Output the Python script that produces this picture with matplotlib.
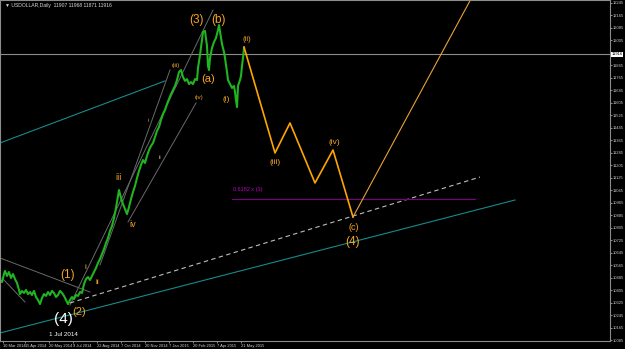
import matplotlib
matplotlib.use("Agg")
import matplotlib.pyplot as plt

# price bars (bar index, close)
bar_x = [0, 2, 4, 5, 7, 9, 11, 13, 15, 17, 19, 20, 22, 24, 26, 28, 30, 32, 34, 36,
         38, 40, 42, 44, 46, 48, 50, 52, 54, 56, 58, 60, 62, 64, 66, 68, 70, 72, 74, 76,
         78, 80, 82, 84, 86, 88, 90, 92, 94, 96, 98, 100, 102, 104, 106, 108, 110, 112, 114, 116,
         118, 119, 121, 123, 125, 127, 129, 131, 133, 135, 137, 139, 141, 143, 145, 147, 149, 151, 153, 155,
         157, 159, 161, 163, 165, 167, 169, 171, 173, 175, 177, 179, 181, 183, 185, 187, 189, 191, 193, 195,
         197, 198, 200, 202, 203, 205, 207, 208, 209, 210, 212, 214, 216, 218, 219, 221, 222, 224, 225, 227,
         228, 230, 232, 234, 235, 236, 237, 238, 240, 241, 242, 243, 244]
close = [10472, 10459, 10510, 10530, 10498, 10523, 10485, 10510, 10478, 10453, 10408, 10382, 10402, 10389, 10408, 10382, 10395, 10376, 10402, 10363,
         10344, 10318, 10357, 10382, 10370, 10395, 10376, 10402, 10389, 10363, 10376, 10402, 10389, 10370, 10344, 10318, 10344, 10363, 10350, 10376,
         10370, 10395, 10389, 10446, 10478, 10491, 10472, 10498, 10523, 10549, 10581, 10606, 10638, 10670, 10709, 10741, 10786, 10818, 10869, 10933,
         11010, 11048, 10997, 10958, 10926, 10894, 10939, 10990, 11035, 11074, 11125, 11170, 11208, 11240, 11221, 11266, 11304, 11330, 11349, 11387,
         11426, 11451, 11496, 11534, 11560, 11598, 11630, 11662, 11688, 11714, 11752, 11803, 11816, 11771, 11746, 11758, 11726, 11739, 11726, 11758,
         11752, 11829, 11912, 12008, 12059, 12066, 11970, 11842, 11816, 11893, 11957, 11995, 12021, 12072, 12104, 12021, 11982, 11931, 11893, 11803,
         11752, 11726, 11701, 11714, 11675, 11624, 11579, 11714, 11752, 11778, 11842, 11893, 11957]

# projected wave path
wave_x = [244, 275, 290, 315, 333, 353]
wave_p = [11963, 11285, 11477, 11093, 11304, 10875]
leg_x = [353, 472]
leg_p = [10875, 12283]

# trend lines
dash_x, dash_p = [70, 480], [10325, 11131]
fib_x, fib_p = [232, 475], [10990, 10990]
teal_lo_x, teal_lo_p = [0, 515], [10133, 10984]
teal_hi_x, teal_hi_p = [0, 165], [11349, 11746]
grey_lines = [([0, 90], [10613, 10395]),
              ([2, 25], [10485, 10331]),
              ([70, 213], [10312, 12200]),
              ([100, 170], [10568, 11816]),
              ([128, 196], [10843, 11605])]

# wave labels: text, bar, price, size, colour
labels = [("(3)", 197, 12136, 8.5, "#f5a623"), ("(b)", 219, 12136, 8.5, "#f5a623"),
          ("(ii)", 247, 12014, 5.5, "#f5a623"), ("(iii)", 176, 11842, 4.5, "#f5a623"),
          ("(a)", 208, 11758, 8, "#f5a623"), ("(iv)", 199, 11643, 4.5, "#f5a623"),
          ("(i)", 226, 11630, 6, "#f5a623"), ("iii", 119, 11131, 6.5, "#f5a623"),
          ("i", 148, 11490, 4.5, "#9a9a70"), ("ii", 160, 11259, 4.5, "#9a9a70"),
          ("iv", 133, 10830, 6.5, "#f5a623"), ("(1)", 68, 10504, 8.5, "#f5a623"),
          ("i", 85, 10549, 6, "#f5a623"), ("ii", 97, 10453, 6, "#f5a623"),
          ("(2)", 79, 10267, 8, "#f5a623"), ("(4)", 63, 10222, 11, "white"),
          ("1 Jul 2014", 63, 10126, 4.5, "white"),
          ("(iii)", 275, 11221, 6, "#f5a623"), ("(iv)", 334, 11349, 6, "#f5a623"),
          ("(c)", 354, 10811, 6.5, "#f5a623"), ("(4)", 353, 10715, 8.5, "#f5a623")]

price_ticks = [12245, 12165, 12085, 12005, 11845, 11765, 11685, 11605, 11525, 11445,
               11365, 11285, 11205, 11125, 11045, 10965, 10885, 10805, 10725, 10645,
               10565, 10485, 10405, 10325, 10245, 10165, 10085]
date_pos = [3, 25, 49, 73, 97, 121, 145, 169, 193, 217, 241]
date_labels = ["10 Mar 2014", "15 Apr 2014", "20 May 2014", "9 Jul 2014", "22 Aug 2014",
               "7 Oct 2014", "20 Nov 2014", "7 Jan 2015", "20 Feb 2015", "7 Apr 2015",
               "21 May 2015"]
last_price = 11916

plt.rcParams['font.family'] = ['Liberation Sans', 'DejaVu Sans']

fig = plt.figure(figsize=(6.25, 3.49), dpi=100, facecolor="black")
ax = fig.add_axes([0, 8 / 349, 610 / 625, 341 / 349], facecolor="black")
ax.set_xlim(0, 610)
ax.set_ylim(10081.6, 12264)

ax.axhline(last_price, color="#8c8c8c", lw=0.8)
for gx, gp in grey_lines:
    ax.plot(gx, gp, color="#6a6a6a", lw=0.7)
ax.plot(teal_hi_x, teal_hi_p, color="#178a8a", lw=0.8)
ax.plot(teal_lo_x, teal_lo_p, color="#178a8a", lw=0.8)
ax.plot(dash_x, dash_p, color="#bdbdbd", lw=0.8, ls=(0, (4, 3)))
ax.plot(fib_x, fib_p, color="#800080", lw=0.8)
ax.text(fib_x[0] + 1, fib_p[0] + 45, "0.6182 x (3)", color="#c000c0", fontsize=4, va="bottom")
ax.plot(bar_x, close, color="#1fb51f", lw=1.5)
ax.plot(wave_x, wave_p, color="#ffa500", lw=1.2)
ax.plot(leg_x, leg_p, color="#e8a13a", lw=0.8)

for txt, lx, lp, sz, col in labels:
    ax.text(lx, lp, txt, color=col, fontsize=sz, ha="center", va="center")

ax.yaxis.tick_right()
ax.set_yticks(price_ticks)
ax.set_yticklabels([str(p) for p in price_ticks])
ax.set_xticks(date_pos)
ax.set_xticklabels(date_labels, ha="left")
ax.tick_params(axis="y", colors="#c8c8c8", labelsize=3.0, length=1.5, pad=0.5, width=0.5)
ax.tick_params(axis="x", colors="#c8c8c8", labelsize=2.9, length=1.5, pad=0.5, width=0.5)
for lab in ax.get_xticklabels():
    lab.set_color("#d0d0d0")
for s in ["left", "right", "bottom", "top"]:
    ax.spines[s].set_color("#8c8c8c")
    ax.spines[s].set_linewidth(0.8)

ax.text(1.002, last_price, str(last_price), transform=ax.get_yaxis_transform(),
        fontsize=3.0, color="black", va="center", ha="left",
        bbox=dict(boxstyle="square,pad=0.15", fc="white", ec="none"))

fig.text(5 / 625, 1 - 6 / 349, "\u25bc USDOLLAR,Daily  11907 11968 11871 11916",
         color="#d8d8d8", fontsize=3.6, va="center", ha="left")

fig.savefig("out.png", dpi=100, facecolor="black")
